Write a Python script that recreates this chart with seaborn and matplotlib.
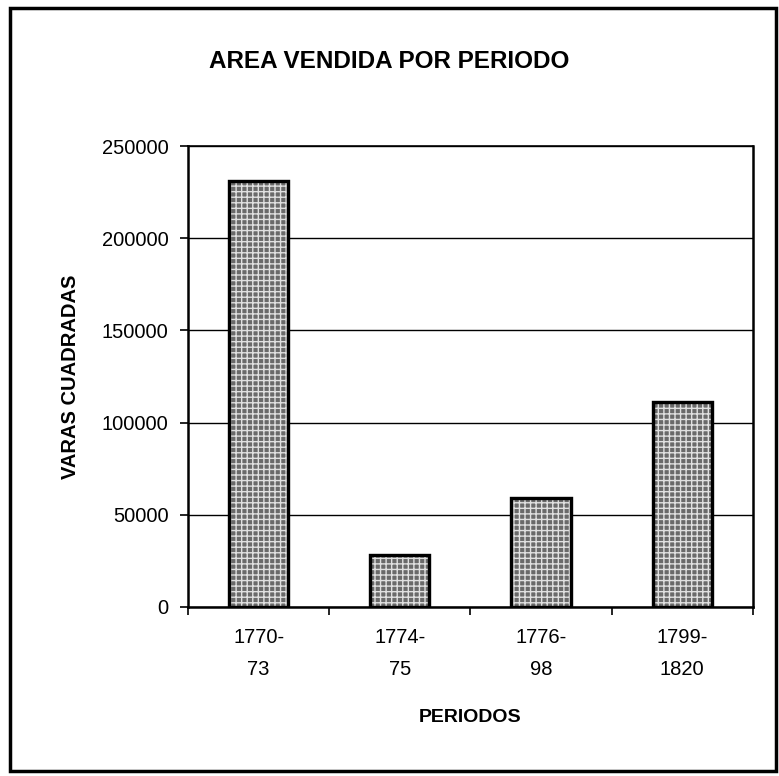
import matplotlib
matplotlib.use("Agg")
import matplotlib.pyplot as plt
import seaborn as sns
import pandas as pd
from matplotlib.patches import Rectangle

periodos = ["1770-\n73", "1774-\n75", "1776-\n98", "1799-\n1820"]
varas = [231000, 28000, 59000, 111000]
yticks = [0, 50000, 100000, 150000, 200000, 250000]

sns.set_theme(style="white")
plt.rcParams['font.family'] = ['Liberation Sans', 'DejaVu Sans']
plt.rcParams['text.color'] = 'black'
plt.rcParams['axes.labelcolor'] = 'black'
plt.rcParams['xtick.color'] = 'black'
plt.rcParams['ytick.color'] = 'black'
plt.rcParams['hatch.linewidth'] = 1.0

df = pd.DataFrame({"periodo": periodos, "varas": varas})

fig = plt.figure(figsize=(7.79, 7.76), dpi=100)
ax = fig.add_axes([0.2414, 0.2178, 0.725, 0.594])

sns.barplot(data=df, x="periodo", y="varas", ax=ax, color="#6a6a6a",
            width=0.42, edgecolor="black", linewidth=2.2, saturation=1)

# dithered texture overlay
for p in list(ax.patches):
    ax.add_patch(Rectangle(p.get_xy(), p.get_width(), p.get_height(),
                           facecolor="none", edgecolor="#e0e0e0", linewidth=0,
                           hatch="+++", zorder=p.get_zorder() + 0.1))
    ax.add_patch(Rectangle(p.get_xy(), p.get_width(), p.get_height(),
                           facecolor="none", edgecolor="black", linewidth=2.4,
                           zorder=p.get_zorder() + 0.2))

ax.set_ylim(0, 250000)
ax.set_xlim(-0.5, 3.5)
ax.set_yticks(yticks)
ax.set_yticklabels([str(v) for v in yticks], fontsize=14.5)
ax.yaxis.grid(True, color="black", linewidth=1)
ax.set_axisbelow(True)

ax.set_xticks(range(len(periodos)))
ax.set_xticklabels(periodos, fontsize=14.5, linespacing=1.85)
ax.set_xticks([-0.5, 0.5, 1.5, 2.5, 3.5], minor=True)
ax.tick_params(axis="x", which="major", length=0, pad=15)
ax.tick_params(axis="x", which="minor", length=6, width=1.2, color="black", direction="out", bottom=True)
ax.tick_params(axis="y", length=6, width=1.2, color="black", direction="out", left=True, pad=8)

for s in ax.spines.values():
    s.set_visible(True)
    s.set_color("black")
    s.set_linewidth(1.2)
ax.spines["left"].set_linewidth(1.8)
ax.spines["bottom"].set_linewidth(1.8)
ax.spines["right"].set_linewidth(1.8)

ax.set_xlabel("PERIODOS", fontsize=14, fontweight="bold", labelpad=22)
ax.set_ylabel("VARAS CUADRADAS", fontsize=14.5, fontweight="bold")
ax.yaxis.set_label_coords(-0.191, 0.5)

fig.text(0.5, 0.921, "AREA VENDIDA POR PERIODO", ha="center", va="center",
         fontsize=17.5, fontweight="bold")

fig.patches.append(Rectangle((0.0128, 0.0064), 0.983, 0.983, transform=fig.transFigure,
                             fill=False, edgecolor="black", linewidth=2.5))

fig.savefig("out.png", dpi=100)
